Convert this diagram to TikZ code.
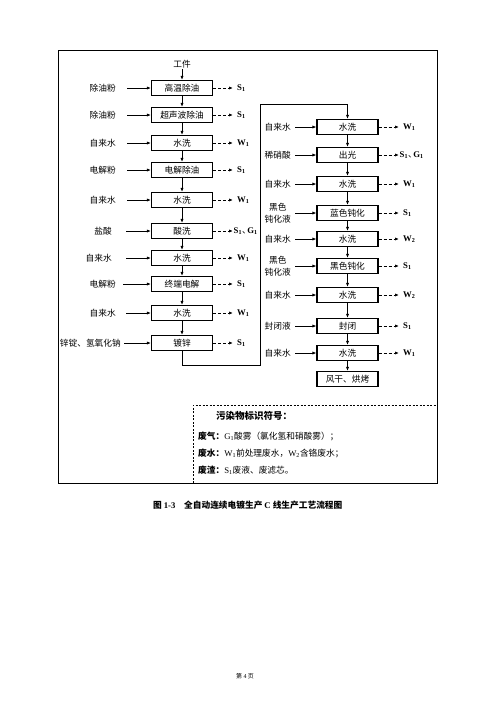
\documentclass[tikz,border=0pt]{standalone}
\usepackage{fontspec}
\setmainfont{Noto Sans CJK SC}
\newfontfamily\lat{Liberation Serif}
\usetikzlibrary{arrows.meta}
\newcommand\Sa{{\lat\bfseries S\textsubscript{1}}}
\newcommand\Wa{{\lat\bfseries W\textsubscript{1}}}
\newcommand\Wb{{\lat\bfseries W\textsubscript{2}}}
\newcommand\SG{\hspace*{-3.5pt}{\lat\bfseries S\textsubscript{1}}、\hspace*{-3.5pt}{\lat\bfseries G\textsubscript{1}}}
\begin{document}
\begin{tikzpicture}[x=1pt,y=-1pt,
  every node/.style={font=\fontsize{8.7}{12}\selectfont},
  proc/.style={draw,line width=1.1pt,minimum width=61pt,minimum height=15pt,inner sep=0pt},
  lab/.style={inner sep=1pt,align=center},
  arr/.style={line width=0.8pt,-{Latex[length=4pt,width=3.2pt]}},
  dasharr/.style={line width=0.8pt,dash pattern=on 3pt off 2pt,-{Latex[length=4pt,width=3.2pt]}},
  line/.style={line width=0.8pt}]
\useasboundingbox (0,0) rectangle (485,707);
\fill[white] (0,0) rectangle (485,707);
% outer frame
\draw[line width=1pt] (58,50) rectangle (437,483);
% left column
\node[lab] (gj) at (182,64) {工件};
\foreach \n/\y/\t/\a/\lx/\ax/\o in {
  1/88/高温除油/除油粉/117/127/\Sa,
  2/115/超声波除油/除油粉/117/127/\Sa,
  3/143/水洗/自来水/117/127/\Wa,
  4/170/电解除油/电解粉/117/127/\Sa,
  5/200/水洗/自来水/117/127/\Wa,
  6/231/酸洗/盐酸/113/126/\SG,
  7/258/水洗/自来水/113/126/\Wa,
  8/284/终端电解/电解粉/117/123/\Sa,
  9/313/水洗/自来水/117/126/\Wa,
  10/343/镀锌/锌锭、氢氧化钠/122/124/\Sa}{
  \node[proc] (L\n) at (182,\y) {\t};
  \node[lab,anchor=east] (LI\n) at (\lx,\y) {\a};
  \coordinate (LA\n) at (\ax,\y);
  \draw[arr] (LA\n) -- (L\n.west);
  \coordinate (LO\n) at (233,\y);
  \draw[dasharr] (L\n.east) -- (LO\n);
  \node[lab,anchor=west] (LP\n) at (236,\y) {\o};
}
\draw[arr] (gj) -- (L1.north);
\foreach \a/\b in {1/2,2/3,3/4,4/5,5/6,6/7,7/8,8/9,9/10}{
  \draw[arr] (L\a.south) -- (L\b.north);
}
% right column
\foreach \n/\y/\t/\a/\o in {
  1/127/水洗/自来水/\Wa,
  2/155/出光/稀硝酸/\SG,
  3/184/水洗/自来水/\Wa,
  4/213/蓝色钝化/{黑色\\钝化液}/\Sa,
  5/239/水洗/自来水/\Wb,
  6/266/黑色钝化/{黑色\\钝化液}/\Sa,
  7/295/水洗/自来水/\Wb,
  8/326/封闭/封闭液/\Sa,
  9/353/水洗/自来水/\Wa}{
  \node[proc] (R\n) at (347.5,\y) {\t};
  \node[lab,anchor=east] (RI\n) at (292,\y) {\a};
  \coordinate (RA\n) at (295,\y);
  \draw[arr] (RA\n) -- (R\n.west);
  \coordinate (RO\n) at (399,\y);
  \draw[dasharr] (R\n.east) -- (RO\n);
  \node[lab,anchor=west] (RP\n) at (402,\y) {\o};
}
\node[proc] (R10) at (347.5,379) {风干、烘烤};
\foreach \a/\b in {1/2,2/3,3/4,4/5,5/6,6/7,7/8,8/9,9/10}{
  \draw[arr] (R\a.south) -- (R\b.north);
}
% connector between columns
\coordinate (c1) at (182,365);
\coordinate (c2) at (260,365);
\coordinate (c3) at (260,104);
\coordinate (c4) at (347.5,104);
\draw[line] (L10.south) -- (c1) -- (c2) -- (c3) -- (c4);
\draw[arr] (c4) -- (R1.north);
% legend
\coordinate (g1) at (193,483);
\coordinate (g2) at (193,405);
\coordinate (g3) at (437,405);
\draw[line width=0.8pt,dash pattern=on 2pt off 1.5pt] (g1) -- (g2) -- (g3);
\node[lab,anchor=west,font=\fontsize{9.5}{11}\selectfont\bfseries] (lt) at (215,416) {污染物标识符号：};
\node[lab,anchor=west] (l1) at (197,436) {\textbf{废气：}{\lat G\textsubscript{1}}酸雾（氯化氢和硝酸雾）；};
\node[lab,anchor=west] (l2) at (197,453) {\textbf{废水：}{\lat W\textsubscript{1}}前处理废水，{\lat W\textsubscript{2}}含铬废水；};
\node[lab,anchor=west] (l3) at (197,470) {\textbf{废渣：}{\lat S\textsubscript{1}}废液、废滤芯。};
% caption
\node[lab,anchor=west,font=\fontsize{8.7}{11}\selectfont\bfseries] (cap) at (152,505) {图 {\lat 1-3}\quad 全自动连续电镀生产 {\lat C} 线生产工艺流程图};
% footer
\node[lab,font=\fontsize{6}{8}\selectfont] (ft) at (245,676) {第 {\lat 4} 页};
\end{tikzpicture}
\end{document}
